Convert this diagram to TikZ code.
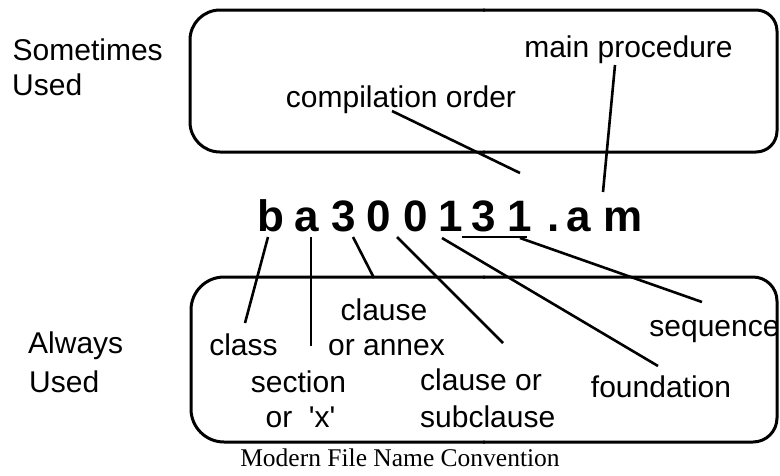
\documentclass[tikz,border=0pt]{standalone}
\usepackage{fontspec}
\newfontfamily\lsans{Liberation Sans}[Ligatures=TeXOff]
\newfontfamily\lserif{Liberation Serif}
\begin{document}
\begin{tikzpicture}[x=1pt,y=-1pt,
  lbl/.style={font=\lsans\fontsize{30}{30}\selectfont, inner sep=0pt, anchor=base},
  lblw/.style={lbl, anchor=base west},
  fn/.style={font=\lsans\bfseries\fontsize{44}{44}\selectfont, inner sep=0pt, anchor=base},
  captxt/.style={font=\lserif\fontsize{25.5}{26}\selectfont, inner sep=0pt, anchor=base},
  boxline/.style={line width=3pt},
  conn/.style={line width=2.6pt}]
\useasboundingbox (0,0) rectangle (780,475);

% boxes
\draw[boxline, rounded corners=30pt] (485,152) -- (190,152) -- (190,10) -- (485,10);
\draw[boxline, rounded corners=21pt] (483,10) -- (777,10) -- (777,152) -- (483,152);
\draw[boxline, rounded corners=33pt] (485,442) -- (191,442) -- (191,277) -- (485,277);
\draw[boxline, rounded corners=24pt] (483,277) -- (777,277) -- (777,442) -- (483,442);

% side texts
\node[lblw] (some1) at (12.5,60) {Sometimes};
\node[lblw] (some2) at (12,95) {Used};
\node[lblw] (alw1) at (28,353) {Always};
\node[lblw] (alw2) at (29,392) {Used};

% top labels
\node[lbl] (mainproc) at (628.5,57) {main procedure};
\node[lbl] (comporder) at (401,107) {compilation order};

% file name
\node[fn] (c1) at (271,231) {b};
\node[fn] (c2) at (307,231) {a};
\node[fn] (c3) at (344,231) {3};
\node[fn] (c4) at (379,231) {0};
\node[fn] (c5) at (415.5,231) {0};
\node[fn] (c6) at (451,231) {1};
\node[fn] (c7) at (484,231) {3};
\node[fn] (c8) at (520,231) {1};
\node[fn] (c9) at (553.5,231) {.};
\node[fn] (c10) at (579,231) {a};
\node[fn] (c11) at (623.5,231) {m};

% bottom labels
\node[lbl] (class) at (243.5,355) {class};
\node[lbl] (clause1) at (384,320) {clause};
\node[lbl] (clause2) at (386.5,355) {or annex};
\node[lbl] (sect1) at (298.5,392) {section};
\node[lbl] (sect2) at (300.5,427) {or\ \ 'x'};
\node[lblw] (sub1) at (420,390) {clause or};
\node[lblw] (sub2) at (420,427) {subclause};
\node[lbl] (found) at (661,397) {foundation};
\node[lbl] (seq) at (714.5,336) {sequence};

% caption
\node[captxt] (caption) at (400,466) {Modern File Name Convention};

% connector end points
\coordinate (compA) at (392,111);
\coordinate (compB) at (520,173);
\coordinate (mainA) at (615,65);
\coordinate (mainB) at (603,192);
\coordinate (bA) at (268,237);
\coordinate (bB) at (245,323);
\coordinate (aA) at (311,237);
\coordinate (aB) at (311,346);
\coordinate (tA) at (353,237);
\coordinate (tB) at (374,278);
\coordinate (zA) at (397,237);
\coordinate (zB) at (503,343);
\coordinate (oA) at (442,238);
\coordinate (oB) at (658,366);
\coordinate (ulA) at (462,237);
\coordinate (ulB) at (527,237);
\coordinate (sA) at (520,238);
\coordinate (sB) at (702,302);

\draw[conn] (compA) -- (compB);
\draw[conn] (mainA) -- (mainB);
\draw[conn] (bA) -- (bB);
\draw[conn] (aA) -- (aB);
\draw[conn] (tA) -- (tB);
\draw[conn] (zA) -- (zB);
\draw[conn] (oA) -- (oB);
\draw[conn] (ulA) -- (ulB);
\draw[conn] (sA) -- (sB);
\end{tikzpicture}
\end{document}
